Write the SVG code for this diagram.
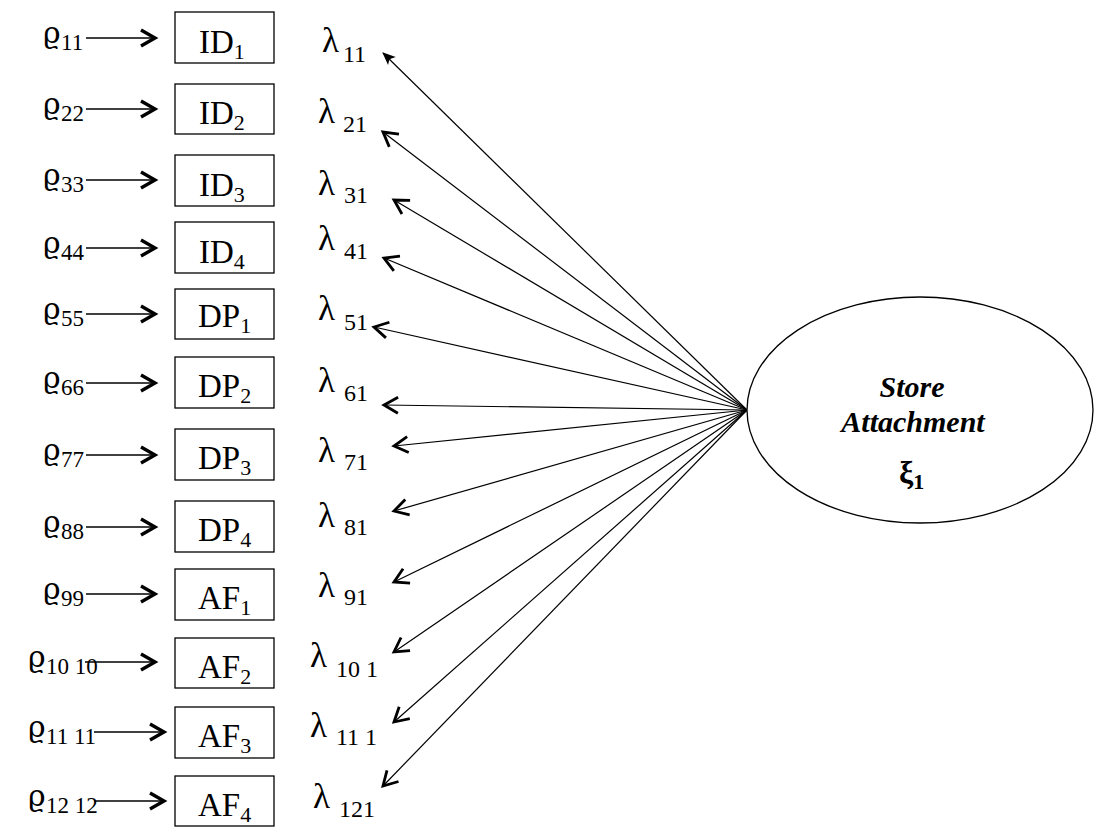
<svg xmlns="http://www.w3.org/2000/svg" width="1107" height="832" viewBox="0 0 1107 832">
<style>
text{font-family:"Liberation Serif","Times New Roman","DejaVu Serif",serif;fill:#000}
.box{fill:#fff;stroke:#000;stroke-width:1.3}
.bt{font-size:33px}
.bs{font-size:22px}
.eg{font-size:30px;font-family:"DejaVu Serif","Liberation Serif",serif}
.es{font-size:23px;font-family:"Liberation Serif","Times New Roman",serif}
.lm{font-size:35px}
.ls{font-size:24px}
.err{stroke:#000;stroke-width:1.4;fill:none;marker-end:url(#chev)}
.ld{stroke:#000;stroke-width:1.2;fill:none;marker-end:url(#chev2)}
.lt{font-size:30px;font-weight:bold;font-style:italic}
</style>
<defs>
<marker id="chev" markerUnits="userSpaceOnUse" markerWidth="20" markerHeight="22" refX="15" refY="10" orient="auto" overflow="visible">
<path d="M1,2 L15,10 L1,18" fill="none" stroke="#000" stroke-width="3.4"/>
</marker>
<marker id="chev2" markerUnits="userSpaceOnUse" markerWidth="20" markerHeight="22" refX="15" refY="10" orient="auto" overflow="visible">
<path d="M1,2 L15,10 L1,18" fill="none" stroke="#000" stroke-width="2.8"/>
</marker>
<marker id="tri" markerUnits="userSpaceOnUse" markerWidth="14" markerHeight="12" refX="12" refY="5" orient="auto" overflow="visible">
<path d="M0,0 L13,5 L0,11 L3,5 Z" fill="#000"/>
</marker>
</defs>

<g id="connectors">
<line class="err" x1="86" y1="38" x2="155" y2="38"/>
<line class="err" x1="86" y1="109" x2="155" y2="109"/>
<line class="err" x1="86" y1="180" x2="155" y2="180"/>
<line class="err" x1="86" y1="248" x2="155" y2="248"/>
<line class="err" x1="86" y1="314" x2="155" y2="314"/>
<line class="err" x1="86" y1="383" x2="155" y2="383"/>
<line class="err" x1="86" y1="455" x2="155" y2="455"/>
<line class="err" x1="86" y1="527" x2="155" y2="527"/>
<line class="err" x1="86" y1="594" x2="155" y2="594"/>
<line class="err" x1="85" y1="662" x2="155" y2="662"/>
<line class="err" x1="94" y1="732" x2="164" y2="732"/>
<line class="err" x1="94" y1="801" x2="164" y2="801"/>

<line stroke="#000" stroke-width="1.2" marker-end="url(#tri)" x1="747" y1="410" x2="383" y2="53"/>
<line class="ld" x1="747" y1="410" x2="383" y2="132"/>
<line class="ld" x1="747" y1="410" x2="394" y2="200"/>
<line class="ld" x1="747" y1="410" x2="384" y2="258"/>
<line class="ld" x1="747" y1="410" x2="374" y2="327"/>
<line class="ld" x1="747" y1="410" x2="384" y2="405"/>
<line class="ld" x1="747" y1="410" x2="394" y2="446"/>
<line class="ld" x1="747" y1="410" x2="394" y2="511"/>
<line class="ld" x1="747" y1="410" x2="394" y2="582"/>
<line class="ld" x1="747" y1="410" x2="394" y2="652"/>
<line class="ld" x1="747" y1="410" x2="394" y2="722"/>
<line class="ld" x1="747" y1="410" x2="383" y2="786"/>
</g>

<g id="e1"><text x="43" y="43" class="eg">ϱ<tspan class="es" x="61" y="50">11</tspan></text></g>
<g id="e2"><text x="43" y="114" class="eg">ϱ<tspan class="es" x="61" y="121">22</tspan></text></g>
<g id="e3"><text x="43" y="185" class="eg">ϱ<tspan class="es" x="61" y="192">33</tspan></text></g>
<g id="e4"><text x="43" y="253" class="eg">ϱ<tspan class="es" x="61" y="260">44</tspan></text></g>
<g id="e5"><text x="43" y="319" class="eg">ϱ<tspan class="es" x="61" y="326">55</tspan></text></g>
<g id="e6"><text x="43" y="388" class="eg">ϱ<tspan class="es" x="61" y="395">66</tspan></text></g>
<g id="e7"><text x="43" y="460" class="eg">ϱ<tspan class="es" x="61" y="467">77</tspan></text></g>
<g id="e8"><text x="43" y="532" class="eg">ϱ<tspan class="es" x="61" y="539">88</tspan></text></g>
<g id="e9"><text x="43" y="599" class="eg">ϱ<tspan class="es" x="61" y="606">99</tspan></text></g>
<g id="e10"><text x="28" y="667" class="eg">ϱ<tspan class="es" x="46" y="674">10 10</tspan></text></g>
<g id="e11"><text x="28" y="737" class="eg">ϱ<tspan class="es" x="46" y="744">11 11</tspan></text></g>
<g id="e12"><text x="28" y="806" class="eg">ϱ<tspan class="es" x="46" y="813">12 12</tspan></text></g>

<g id="ID1"><rect class="box" x="175" y="12" width="99" height="51"/><text x="199" y="53" class="bt">ID<tspan class="bs" y="59">1</tspan></text></g>
<g id="ID2"><rect class="box" x="175" y="84" width="99" height="50"/><text x="199" y="124" class="bt">ID<tspan class="bs" y="130">2</tspan></text></g>
<g id="ID3"><rect class="box" x="175" y="155" width="99" height="51"/><text x="199" y="196" class="bt">ID<tspan class="bs" y="202">3</tspan></text></g>
<g id="ID4"><rect class="box" x="175" y="222" width="99" height="51"/><text x="199" y="263" class="bt">ID<tspan class="bs" y="269">4</tspan></text></g>
<g id="DP1"><rect class="box" x="175" y="289" width="99" height="50"/><text x="198" y="327" class="bt">DP<tspan class="bs" y="333">1</tspan></text></g>
<g id="DP2"><rect class="box" x="175" y="357" width="99" height="51"/><text x="198" y="397" class="bt">DP<tspan class="bs" y="403">2</tspan></text></g>
<g id="DP3"><rect class="box" x="175" y="429" width="99" height="51"/><text x="198" y="469" class="bt">DP<tspan class="bs" y="475">3</tspan></text></g>
<g id="DP4"><rect class="box" x="175" y="501" width="99" height="51"/><text x="198" y="541" class="bt">DP<tspan class="bs" y="547">4</tspan></text></g>
<g id="AF1"><rect class="box" x="175" y="569" width="99" height="51"/><text x="198" y="609" class="bt">AF<tspan class="bs" y="615">1</tspan></text></g>
<g id="AF2"><rect class="box" x="175" y="638" width="99" height="50"/><text x="198" y="678" class="bt">AF<tspan class="bs" y="684">2</tspan></text></g>
<g id="AF3"><rect class="box" x="175" y="707" width="99" height="51"/><text x="198" y="747" class="bt">AF<tspan class="bs" y="753">3</tspan></text></g>
<g id="AF4"><rect class="box" x="175" y="776" width="99" height="50"/><text x="198" y="816" class="bt">AF<tspan class="bs" y="822">4</tspan></text></g>

<g id="l1"><text x="322" y="52" class="lm">λ<tspan class="ls" x="343" y="62">11</tspan></text></g>
<g id="l2"><text x="318" y="123" class="lm">λ<tspan class="ls" x="343" y="132">21</tspan></text></g>
<g id="l3"><text x="318" y="195" class="lm">λ<tspan class="ls" x="344" y="203">31</tspan></text></g>
<g id="l4"><text x="318" y="250" class="lm">λ<tspan class="ls" x="344" y="259">41</tspan></text></g>
<g id="l5"><text x="318" y="320" class="lm">λ<tspan class="ls" x="344" y="330">51</tspan></text></g>
<g id="l6"><text x="318" y="392" class="lm">λ<tspan class="ls" x="344" y="401">61</tspan></text></g>
<g id="l7"><text x="318" y="462" class="lm">λ<tspan class="ls" x="344" y="470">71</tspan></text></g>
<g id="l8"><text x="318" y="527" class="lm">λ<tspan class="ls" x="344" y="535">81</tspan></text></g>
<g id="l9"><text x="318" y="597" class="lm">λ<tspan class="ls" x="344" y="605">91</tspan></text></g>
<g id="l10"><text x="310" y="667" class="lm">λ<tspan class="ls" x="336" y="677">10 1</tspan></text></g>
<g id="l11"><text x="310" y="737" class="lm">λ<tspan class="ls" x="336" y="745">11 1</tspan></text></g>
<g id="l12"><text x="313" y="808" class="lm">λ<tspan class="ls" x="339" y="817">121</tspan></text></g>

<g id="store-attachment">
<ellipse cx="920" cy="410" rx="173" ry="113" fill="#fff" stroke="#000" stroke-width="1.3"/>
<text x="912" y="397" class="lt" text-anchor="middle">Store</text>
<text x="913" y="432" class="lt" text-anchor="middle">Attachment</text>
<text x="899" y="483" font-size="32" font-weight="bold">ξ<tspan font-size="22" y="489">1</tspan></text>
</g>
</svg>
